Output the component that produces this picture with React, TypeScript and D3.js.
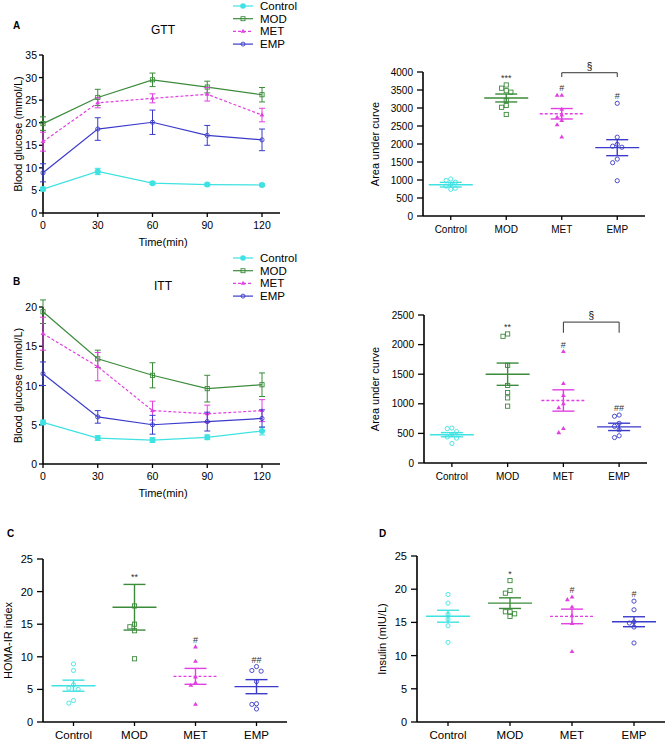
import React from 'react';
import * as d3 from 'd3';

const groups = ['Control', 'MOD', 'MET', 'EMP'];
const groupColors = ['#3fe2e2', '#3b8b3b', '#e23fe2', '#3a3acb'];
const timePoints = [0, 30, 60, 90, 120];

// GTT curves (mean, SEM) per group
const gttMean = [
  [5.3, 9.2, 6.6, 6.3, 6.2],
  [19.8, 25.6, 29.5, 27.9, 26.2],
  [15.8, 24.4, 25.4, 26.3, 21.7],
  [8.9, 18.6, 20.1, 17.2, 16.2],
];
const gttSem = [
  [0.4, 0.7, 0.3, 0.3, 0.3],
  [1.5, 1.8, 1.5, 1.3, 1.6],
  [2.1, 1.1, 1.0, 1.5, 1.5],
  [2.0, 2.5, 2.7, 2.2, 2.4],
];
const gttYTicks = [0, 5, 10, 15, 20, 25, 30, 35];

// ITT curves
const ittMean = [
  [5.3, 3.3, 3.05, 3.4, 4.2],
  [19.4, 13.4, 11.3, 9.6, 10.1],
  [16.6, 12.4, 6.8, 6.4, 6.8],
  [11.5, 6.0, 5.0, 5.4, 5.8],
];
const ittSem = [
  [0.3, 0.3, 0.3, 0.3, 0.5],
  [1.5, 1.1, 1.6, 1.7, 1.5],
  [2.1, 1.8, 1.2, 1.1, 1.4],
  [1.5, 0.8, 1.2, 1.2, 1.1],
];
const ittYTicks = [0, 5, 10, 15, 20];

// AUC of GTT
const aucGttPoints = [
  [1030, 990, 940, 880, 830, 770, 740],
  [3640, 3550, 3480, 3440, 3210, 3070, 3020, 2820],
  [3350, 3350, 2960, 2800, 2740, 2650, 2530, 2190],
  [3130, 2190, 1990, 1940, 1910, 1580, 1480, 980],
];
const aucGttMean = [870, 3278, 2840, 1898];
const aucGttSem = [65, 110, 145, 222];
const aucGttSig = ['', '***', '#', '#'];
const aucGttYTicks = [0, 500, 1000, 1500, 2000, 2500, 3000, 3500, 4000];

// AUC of ITT
const aucIttPoints = [
  [590, 580, 530, 480, 440, 420, 330],
  [2180, 2140, 1650, 1310, 1190, 1100, 960],
  [1880, 1340, 1140, 1000, 930, 580, 510],
  [810, 790, 670, 620, 560, 460, 430],
];
const aucIttMean = [478, 1500, 1056, 610];
const aucIttSem = [35, 188, 180, 62];
const aucIttSig = ['', '**', '#', '##'];
const aucIttYTicks = [0, 500, 1000, 1500, 2000, 2500];

// HOMA-IR
const homaPoints = [
  [8.9, 7.9, 5.7, 5.2, 5.0, 3.3, 2.9],
  [17.8, 15.0, 14.6, 14.0, 9.7],
  [11.5, 9.3, 6.9, 6.0, 5.6, 2.7],
  [8.5, 7.9, 7.8, 6.2, 2.8, 2.7, 2.0],
];
const homaMean = [5.57, 17.6, 7.0, 5.42];
const homaSem = [0.85, 3.5, 1.22, 1.08];
const homaSig = ['', '**', '#', '##'];

// Insulin
const insulinPoints = [
  [19.2, 17.9, 16.2, 15.5, 14.5, 12.0],
  [21.3, 19.8, 19.4, 16.6, 16.6, 16.3, 15.9],
  [18.8, 18.4, 17.3, 16.0, 14.8, 10.6],
  [18.2, 16.9, 15.1, 14.9, 14.3, 11.9],
];
const insulinMean = [15.93, 17.9, 15.9, 15.1];
const insulinSem = [0.9, 0.8, 1.1, 0.75];
const insulinSig = ['', '*', '#', '#'];
const smallYTicks = [0, 5, 10, 15, 20, 25];

type Shape = 'dot' | 'square' | 'triangle' | 'ring';
const lineShapes: Shape[] = ['dot', 'square', 'triangle', 'ring'];
const scatterShapes: Shape[] = ['ring', 'square', 'triangle', 'ring'];

const font = '"Liberation Sans", Arial, sans-serif';

function Marker({ shape, x, y, color, r = 2.5 }: { shape: Shape; x: number; y: number; color: string; r?: number }) {
  if (shape === 'dot') return <circle cx={x} cy={y} r={r + 0.4} fill={color} />;
  if (shape === 'ring') return <circle cx={x} cy={y} r={r} fill="none" stroke={color} strokeWidth={0.9} />;
  if (shape === 'square')
    return <rect x={x - r} y={y - r} width={2 * r} height={2 * r} fill="none" stroke={color} strokeWidth={0.9} />;
  const tri = d3.symbol(d3.symbolTriangle, r * r * 2.2)() as string;
  return <path d={tri} transform={`translate(${x},${y})`} fill={color} />;
}

function YAxis({ scale, ticks, x, tickLen, gap, fontSize }: any) {
  const [y0, y1] = scale.range();
  return (
    <g>
      <line x1={x} x2={x} y1={y0} y2={y1} stroke="#000" strokeWidth={1.6} />
      {ticks.map((t: number) => (
        <g key={t}>
          <line x1={x - tickLen} x2={x} y1={scale(t)} y2={scale(t)} stroke="#000" strokeWidth={1.3} />
          <text x={x - gap} y={scale(t)} textAnchor="end" dominantBaseline="central" fontSize={fontSize}>
            {t}
          </text>
        </g>
      ))}
    </g>
  );
}

function LineChart({ means, sems, yTicks, top, bottom, letter, letterY, title, legendTop }: any) {
  const x = d3.scaleLinear().domain([0, 120]).range([43, 262]);
  const y = d3.scaleLinear().domain([0, yTicks[yTicks.length - 1]]).range([bottom, top]);
  const line = d3
    .line<number>()
    .x((_, i) => x(timePoints[i]))
    .y((d) => y(d));

  return (
    <g>
      <text x={13} y={letterY} fontWeight="bold" fontSize={10}>{letter}</text>
      <text x={163} y={letterY + 5} textAnchor="middle" fontSize={12}>{title}</text>
      {/* legend */}
      {groups.map((g, i) => {
        const ly = legendTop + i * 12.7;
        return (
          <g key={g}>
            <line x1={233} x2={253} y1={ly} y2={ly} stroke={groupColors[i]} strokeWidth={1.2}
              strokeDasharray={i === 2 ? '3,2' : undefined} />
            <Marker shape={lineShapes[i]} x={243} y={ly} color={groupColors[i]} r={i === 0 ? 2.4 : 2} />
            <text x={260} y={ly} dominantBaseline="central" fontSize={11.5}>{g}</text>
          </g>
        );
      })}
      <YAxis scale={y} ticks={yTicks} x={43} tickLen={4} gap={6} fontSize={10.5} />
      <line x1={43} x2={280} y1={bottom} y2={bottom} stroke="#000" strokeWidth={1.6} />
      {timePoints.map((t) => (
        <g key={t}>
          <line x1={x(t)} x2={x(t)} y1={bottom} y2={bottom + 4} stroke="#000" strokeWidth={1.3} />
          <text x={x(t)} y={bottom + 12} textAnchor="middle" dominantBaseline="central" fontSize={10.5}>{t}</text>
        </g>
      ))}
      <text x={163} y={bottom + 29} textAnchor="middle" dominantBaseline="central" fontSize={11}>Time(min)</text>
      <text transform={`translate(18,${(top + bottom) / 2}) rotate(-90)`} textAnchor="middle"
        dominantBaseline="central" fontSize={11}>Blood glucose (mmol/L)</text>
      {means.map((m: number[], gi: number) => (
        <g key={gi}>
          <path d={line(m) as string} fill="none" stroke={groupColors[gi]} strokeWidth={1.2}
            strokeDasharray={gi === 2 ? '3,2' : undefined} />
          {m.map((v, i) => {
            const cx = x(timePoints[i]);
            const hi = y(v + sems[gi][i]);
            const lo = y(v - sems[gi][i]);
            return (
              <g key={i} stroke={groupColors[gi]} strokeWidth={1}>
                <line x1={cx} x2={cx} y1={hi} y2={lo} />
                <line x1={cx - 3} x2={cx + 3} y1={hi} y2={hi} />
                <line x1={cx - 3} x2={cx + 3} y1={lo} y2={lo} />
              </g>
            );
          })}
          {m.map((v, i) => (
            <Marker key={'m' + i} shape={lineShapes[gi]} x={x(timePoints[i])} y={y(v)} color={groupColors[gi]}
              r={gi === 0 ? 2.6 : 2.1} />
          ))}
        </g>
      ))}
    </g>
  );
}

// simple beeswarm: horizontal offsets so markers don't overlap
function swarm(ys: number[], r: number): number[] {
  const placed: { x: number; y: number }[] = [];
  const steps = [0, -1, 1, -2, 2, -3, 3];
  return ys.map((yy) => {
    for (const k of steps) {
      const dx = k * r * 2.1;
      if (placed.every((p) => Math.hypot(p.x - dx, p.y - yy) >= r * 2.1)) {
        placed.push({ x: dx, y: yy });
        return dx;
      }
    }
    placed.push({ x: 0, y: yy });
    return 0;
  });
}

function ScatterChart(props: any) {
  const { points, means, sems, sig, bracket, yTicks, left, right, top, bottom, yTitle, yTitleX,
    catFont, tickFont, tickLen, gap, letter, letterX, letterY } = props;
  const x = d3.scalePoint<string>().domain(groups).range([left, right]).padding(0.5);
  const y = d3.scaleLinear().domain([0, yTicks[yTicks.length - 1]]).range([bottom, top]);
  return (
    <g>
      {letter && <text x={letterX} y={letterY} fontWeight="bold" fontSize={10}>{letter}</text>}
      <YAxis scale={y} ticks={yTicks} x={left} tickLen={tickLen} gap={gap} fontSize={tickFont} />
      <line x1={left} x2={right} y1={bottom} y2={bottom} stroke="#000" strokeWidth={1.6} />
      {groups.map((g) => (
        <g key={g}>
          <line x1={x(g)} x2={x(g)} y1={bottom} y2={bottom + 4} stroke="#000" strokeWidth={1.3} />
          <text x={x(g)} y={bottom + 13} textAnchor="middle" dominantBaseline="central" fontSize={catFont}>{g}</text>
        </g>
      ))}
      <text transform={`translate(${yTitleX},${(top + bottom) / 2}) rotate(-90)`} textAnchor="middle"
        dominantBaseline="central" fontSize={11}>{yTitle}</text>
      {groups.map((g, gi) => {
        const cx = x(g) as number;
        const ys = (points[gi] as number[]).map((v) => y(v));
        const offs = swarm(ys, 2.2);
        const hi = y(means[gi] + sems[gi]);
        const lo = y(means[gi] - sems[gi]);
        const my = y(means[gi]);
        const c = groupColors[gi];
        const topY = Math.min(hi, ...ys);
        return (
          <g key={g}>
            {ys.map((py, i) => (
              <Marker key={i} shape={scatterShapes[gi]} x={cx + offs[i]} y={py} color={c} r={2.1} />
            ))}
            <g stroke={c} strokeWidth={1.4}>
              <line x1={cx - 22} x2={cx + 22} y1={my} y2={my} strokeDasharray={gi === 2 ? '3,2' : undefined} />
              <line x1={cx} x2={cx} y1={hi} y2={lo} />
              <line x1={cx - 11} x2={cx + 11} y1={hi} y2={hi} />
              <line x1={cx - 11} x2={cx + 11} y1={lo} y2={lo} />
            </g>
            {sig[gi] && (
              <text x={cx} y={topY - 4} textAnchor="middle" fontSize={9} fill="#333">{sig[gi]}</text>
            )}
          </g>
        );
      })}
      {bracket && (() => {
        const x1 = x(bracket.from) as number;
        const x2 = x(bracket.to) as number;
        const by = y(bracket.y);
        const dy = y(bracket.drop);
        return (
          <g>
            <path d={`M${x1},${dy}V${by}H${x2}V${dy}`} fill="none" stroke="#333" strokeWidth={1} />
            <text x={(x1 + x2) / 2} y={by - 3} textAnchor="middle" fontSize={10}>{bracket.label}</text>
          </g>
        );
      })()}
    </g>
  );
}

const gttBracket = { from: 'MET', to: 'EMP', y: 3980, drop: 3860, label: '§' };
const ittBracket = { from: 'MET', to: 'EMP', y: 2380, drop: 2200, label: '§' };

const App = () => {
  return (
    <svg width={669} height={741} style={{ position: 'absolute', left: 0, top: 0, background: '#fff' }}
      fontFamily={font}>
      <rect width={669} height={741} fill="#fff" />
      <LineChart means={gttMean} sems={gttSem} yTicks={gttYTicks} top={55} bottom={213}
        letter="A" letterY={29} title="GTT" legendTop={6} />
      <ScatterChart points={aucGttPoints} means={aucGttMean} sems={aucGttSem} sig={aucGttSig}
        bracket={gttBracket} yTicks={aucGttYTicks} left={423} right={645} top={72} bottom={216}
        yTitle="Area under curve" yTitleX={375} catFont={10} tickFont={10} tickLen={6} gap={10} />
      <LineChart means={ittMean} sems={ittSem} yTicks={ittYTicks} top={307} bottom={464}
        letter="B" letterY={285} title="ITT" legendTop={258} />
      <ScatterChart points={aucIttPoints} means={aucIttMean} sems={aucIttSem} sig={aucIttSig}
        bracket={ittBracket} yTicks={aucIttYTicks} left={424} right={647} top={315} bottom={463}
        yTitle="Area under curve" yTitleX={375} catFont={10} tickFont={10} tickLen={6} gap={10} />
      <ScatterChart points={homaPoints} means={homaMean} sems={homaSem} sig={homaSig}
        yTicks={smallYTicks} left={43} right={287} top={559} bottom={722}
        yTitle="HOMA-IR index" yTitleX={8} catFont={11.5} tickFont={11} tickLen={6} gap={10}
        letter="C" letterX={7} letterY={537} />
      <ScatterChart points={insulinPoints} means={insulinMean} sems={insulinSem} sig={insulinSig}
        yTicks={smallYTicks} left={417} right={665} top={556} bottom={722}
        yTitle="Insulin (mIU/L)" yTitleX={382} catFont={11.5} tickFont={11} tickLen={6} gap={10}
        letter="D" letterX={379} letterY={537} />
    </svg>
  );
};

export default App;
